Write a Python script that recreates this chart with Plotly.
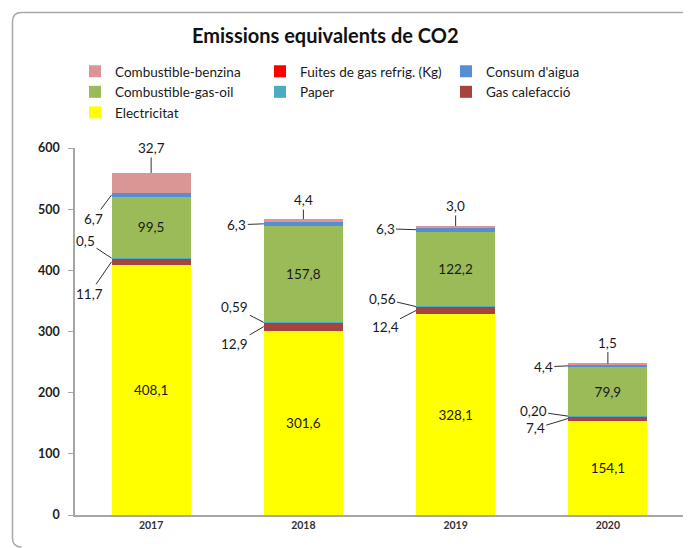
import plotly.graph_objects as go

years = ["2017", "2018", "2019", "2020"]
electricitat = [408.1, 301.6, 328.1, 154.1]
gas_calefaccio = [11.7, 12.9, 12.4, 7.4]
paper = [0.5, 0.59, 0.56, 0.20]
paper_dec = [1, 2, 2, 2]
gasoil = [99.5, 157.8, 122.2, 79.9]
aigua = [6.7, 6.3, 6.3, 4.4]
fuites = [0, 0, 0, 0]
benzina = [32.7, 4.4, 3.0, 1.5]

y_ticks = [0, 100, 200, 300, 400, 500, 600]

W, H = 691, 548
OFF = 8  # page body margin
ML, MT = 75 - OFF, 148 - OFF
MR = W - (684 - OFF)
MB = H - (515 - OFF)
FONT = "Lato, Calibri, Arial, sans-serif"
BAR_W = 0.52
xpos = list(range(len(years)))


def fmt(v, d=1):
    return f"{v:.{d}f}".replace(".", ",")


series = [
    ("Electricitat", electricitat, "#FFFF00", "legend"),
    ("Gas calefacció", gas_calefaccio, "#A8423F", "legend3"),
    ("Paper", paper, "#4BACC6", "legend2"),
    ("Combustible-gas-oil", gasoil, "#9BBB59", "legend"),
    ("Consum d'aigua", aigua, "#558ED5", "legend3"),
    ("Fuites de gas refrig. (Kg)", fuites, "#FF0000", "legend2"),
    ("Combustible-benzina", benzina, "#D99694", "legend"),
]
legend_rank = {
    "Combustible-benzina": 1, "Combustible-gas-oil": 2, "Electricitat": 3,
    "Fuites de gas refrig. (Kg)": 1, "Paper": 2,
    "Consum d'aigua": 1, "Gas calefacció": 2,
}

fig = go.Figure()
for name, vals, col, lg in series:
    kw = {}
    if name in ("Electricitat", "Combustible-gas-oil"):
        kw = dict(text=[fmt(v) for v in vals], textposition="inside",
                  insidetextanchor="middle", textangle=0,
                  insidetextfont=dict(family=FONT, size=13.5, color="#1a1a1a"))
    fig.add_trace(go.Bar(
        x=xpos, y=vals, name=name, marker=dict(color=col, line=dict(width=0)),
        width=BAR_W, legend=lg, legendrank=legend_rank[name],
        hoverinfo="name+y", **kw))

stacks = [electricitat, gas_calefaccio, paper, gasoil, aigua, fuites, benzina]


def cum(i, upto):
    return sum(s[i] for s in stacks[:upto])


# pixel offsets (style) per year: (ax, ay)
off_aigua = [(-18, 24), (-27, 1), (-31, -1), (-25, 1)]
off_paper = [(-26, -17), (-29, -15), (-34, -8), (-35, -5)]
off_gas = [(-22, 32), (-29, 17), (-31, 16), (-33, 10)]
off_benz = [(0, -25), (0, -19), (0, -20), (0, -21)]

ann = []
for i in xpos:
    left = i - BAR_W / 2
    items = [
        (left, cum(i, 4) + aigua[i] / 2, fmt(aigua[i]), off_aigua[i]),
        (left, cum(i, 2) + paper[i] / 2, fmt(paper[i], paper_dec[i]), off_paper[i]),
        (left, cum(i, 1) + gas_calefaccio[i] / 2, fmt(gas_calefaccio[i]), off_gas[i]),
        (i, cum(i, 7), fmt(benzina[i]), off_benz[i]),
    ]
    for x, y, t, (ax, ay) in items:
        ann.append(dict(x=x, y=y, xref="x", yref="y", text=t, showarrow=True,
                        arrowhead=0, arrowwidth=1, arrowcolor="#303030",
                        ax=ax, ay=ay, axref="pixel", ayref="pixel",
                        font=dict(family=FONT, size=13.5, color="#1a1a1a"),
                        borderpad=1))

pw, ph = W - ML - MR, H - MT - MB


def px(xp):
    return (xp - OFF - ML) / pw


def py(yp):
    return (H - MB - (yp - OFF)) / ph


ann.append(dict(text="Emissions equivalents de CO2", x=px(325), y=py(35),
                xref="paper", yref="paper", showarrow=False,
                xanchor="center", yanchor="middle",
                font=dict(family=FONT, size=20, color="#111", weight="bold")))

# frame (rounded border)
r = 9
x0, y0, x1, y1 = 12.5, 12.5, 705, 547
path = (f"M{px(x1)},{py(y0)} L{px(x0 + r)},{py(y0)} Q{px(x0)},{py(y0)} {px(x0)},{py(y0 + r)} "
        f"L{px(x0)},{py(y1 - r)} Q{px(x0)},{py(y1)} {px(x0 + r)},{py(y1)}")
shapes = [dict(type="path", xref="paper", yref="paper", path=path,
               line=dict(color="#A6A6A6", width=1.5), layer="below")]

leg_common = dict(xref="container", yref="container", yanchor="top", xanchor="left",
                  orientation="v", bgcolor="rgba(0,0,0,0)", tracegroupgap=0,
                  font=dict(family=FONT, size=13.5, color="#1a1a1a"),
                  traceorder="normal", itemclick=False, itemdoubleclick=False)

fig.update_layout(
    width=W, height=H, margin=dict(l=ML, r=MR, t=MT, b=MB, autoexpand=False),
    paper_bgcolor="white", plot_bgcolor="white",
    barmode="stack", showlegend=True,
    font=dict(family=FONT, color="#1a1a1a"),
    legend=dict(x=67 / W, y=1 - 48 / H, **leg_common),
    legend2=dict(x=252 / W, y=1 - 48 / H, **leg_common),
    legend3=dict(x=438 / W, y=1 - 48 / H, **leg_common),
    annotations=ann, shapes=shapes,
    xaxis=dict(showline=True, linecolor="#A6A6A6", linewidth=1.5,
               ticks="", showgrid=False, zeroline=False, range=[-0.5, 3.5],
               tickvals=xpos, ticktext=years,
               tickfont=dict(family=FONT, size=10.5, color="#333", weight="bold")),
    yaxis=dict(range=[0, 600], tickvals=y_ticks, showline=True, linecolor="#A6A6A6",
               linewidth=1.5, ticks="outside", ticklen=5, tickcolor="#A6A6A6",
               ticklabelstandoff=6,
               showgrid=False, zeroline=False,
               tickfont=dict(family=FONT, size=12.5, color="#222", weight="bold")),
)

fig.write_html("out.html")
